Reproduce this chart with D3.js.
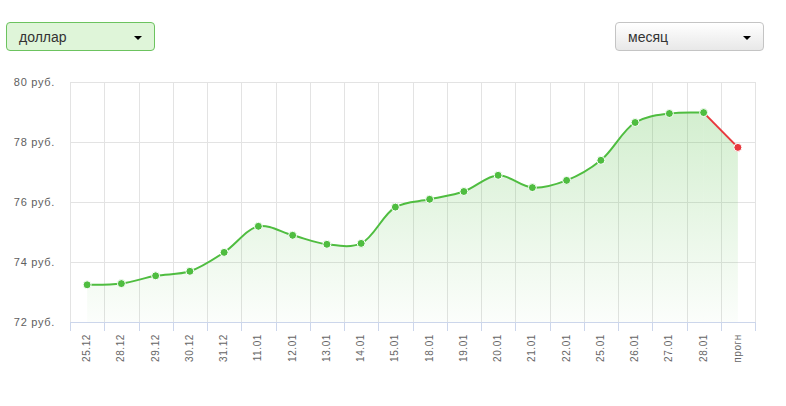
<!DOCTYPE html>
<html>
<head>
<meta charset="utf-8">
<title>Курс доллара</title>
<style>
body {
    margin: 0;
    background: #fff;
    font-family: "Liberation Sans", Arial, sans-serif;
}
.dd {
    position: absolute;
    top: 22px;
    height: 27px;
    width: 147px;
    border-radius: 4px;
    font-size: 14px;
    color: #333;
    line-height: 27px;
    box-sizing: content-box;
}
.dd span.lbl {
    position: absolute;
    left: 12px;
    top: 1px;
}
.dd span.caret {
    position: absolute;
    right: 12px;
    top: 13px;
    width: 0;
    height: 0;
    border-left: 4px solid transparent;
    border-right: 4px solid transparent;
    border-top: 4px solid #000;
}
#cur {
    left: 6px;
    background: #dff5d9;
    border: 1px solid #6cc35f;
}
#period {
    left: 615px;
    background: linear-gradient(#ffffff, #e8e8e8);
    border: 1px solid #c4c4c4;
}
#chart {
    position: absolute;
    left: 0;
    top: 0;
}
text {
    font-family: "Liberation Sans", Arial, sans-serif;
}
.grid line {
    stroke: #e3e3e3;
    shape-rendering: crispEdges;
}
.xaxis line {
    stroke: #ccd6eb;
    shape-rendering: crispEdges;
}
</style>
</head>
<body>
<script src="https://cdn.jsdelivr.net/npm/d3@7"></script>
<div id="cur" class="dd"><span class="lbl">доллар</span><span class="caret"></span></div>
<div id="period" class="dd"><span class="lbl">месяц</span><span class="caret"></span></div>
<div id="chart"></div>
<script>
var dates = ["25.12", "28.12", "29.12", "30.12", "31.12", "11.01", "12.01", "13.01", "14.01", "15.01",
             "18.01", "19.01", "20.01", "21.01", "22.01", "25.01", "26.01", "27.01", "28.01", "прогн"];
var rates = [73.24, 73.28, 73.54, 73.69, 74.32, 75.19, 74.89, 74.59, 74.62, 75.83,
             76.09, 76.35, 76.89, 76.48, 76.72, 77.39, 78.65, 78.95, 78.98, 77.82];
var yticks = [72, 74, 76, 78, 80];

(function() {
    var dimensions = { width: 786, height: 406 };
    var margins = { top: 82, right: 31, bottom: 84, left: 70 };
    var green = "#4fbd40", red = "#e8383d";

    var svg = d3.select("#chart")
        .append("svg")
        .attr("width", dimensions.width)
        .attr("height", dimensions.height);

    var xscale = d3.scaleBand()
        .domain(dates)
        .range([margins.left, dimensions.width - margins.right]);
    var yscale = d3.scaleLinear()
        .domain([72, 80])
        .range([dimensions.height - margins.bottom, margins.top]);
    var bottom = yscale(72);

    function cx(d) { return xscale(d) + xscale.bandwidth() / 2; }

    var defs = svg.append("defs");
    var grad = defs.append("linearGradient")
        .attr("id", "fill")
        .attr("gradientUnits", "userSpaceOnUse")
        .attr("x1", 0).attr("x2", 0)
        .attr("y1", yscale(79)).attr("y2", bottom);
    grad.append("stop").attr("offset", "0%").attr("stop-color", "#4fbd40").attr("stop-opacity", 0.25);
    grad.append("stop").attr("offset", "100%").attr("stop-color", "#4fbd40").attr("stop-opacity", 0.02);

    // grid
    var grid = svg.append("g").attr("class", "grid");
    var xlines = dates.map(function(d) { return xscale(d); }).concat([xscale.range()[1]]);
    grid.selectAll("line.v")
        .data(xlines)
        .enter().append("line")
        .attr("class", "v")
        .attr("x1", function(d) { return Math.round(d) + 0.5; })
        .attr("x2", function(d) { return Math.round(d) + 0.5; })
        .attr("y1", margins.top)
        .attr("y2", bottom);
    grid.selectAll("line.h")
        .data(yticks.slice(1))
        .enter().append("line")
        .attr("class", "h")
        .attr("x1", margins.left)
        .attr("x2", xscale.range()[1])
        .attr("y1", function(d) { return yscale(d) + 0.5; })
        .attr("y2", function(d) { return yscale(d) + 0.5; });

    // y labels
    svg.append("g")
        .selectAll("text")
        .data(yticks)
        .enter().append("text")
        .attr("x", 55)
        .attr("y", function(d) { return yscale(d) + 4; })
        .attr("text-anchor", "end")
        .attr("font-size", "11px")
        .attr("letter-spacing", "0.7px")
        .attr("fill", "#606060")
        .text(function(d) { return d + " руб."; });

    // x axis
    var gx = svg.append("g").attr("class", "xaxis");
    gx.append("line")
        .attr("x1", margins.left)
        .attr("x2", xscale.range()[1])
        .attr("y1", bottom + 0.5)
        .attr("y2", bottom + 0.5);
    gx.selectAll("line.tick")
        .data(xlines)
        .enter().append("line")
        .attr("class", "tick")
        .attr("x1", function(d) { return Math.round(d) + 0.5; })
        .attr("x2", function(d) { return Math.round(d) + 0.5; })
        .attr("y1", bottom)
        .attr("y2", bottom + 9);
    gx.selectAll("text")
        .data(dates)
        .enter().append("text")
        .attr("transform", function(d) { return "translate(" + (cx(d) + 3) + "," + (bottom + 12) + ") rotate(-90)"; })
        .attr("text-anchor", "end")
        .attr("font-size", "10px")
        .attr("letter-spacing", "0.6px")
        .attr("fill", "#666")
        .text(function(d) { return d; });

    var pts = dates.map(function(d, i) { return { x: cx(d), y: yscale(rates[i]) }; });
    var main = pts.slice(0, pts.length - 1);
    var fcst = pts.slice(pts.length - 2);

    var area = d3.area()
        .x(function(d) { return d.x; })
        .y0(bottom)
        .y1(function(d) { return d.y; });
    svg.append("path")
        .attr("d", area.curve(d3.curveCatmullRom.alpha(0.5))(main))
        .attr("fill", "url(#fill)");
    svg.append("path")
        .attr("d", area.curve(d3.curveLinear)(fcst))
        .attr("fill", "url(#fill)");

    svg.append("path")
        .attr("d", d3.line().x(function(d) { return d.x; }).y(function(d) { return d.y; })
            .curve(d3.curveLinear)(fcst))
        .attr("fill", "none")
        .attr("stroke", red)
        .attr("stroke-width", 2);
    svg.append("path")
        .attr("d", d3.line().x(function(d) { return d.x; }).y(function(d) { return d.y; })
            .curve(d3.curveCatmullRom.alpha(0.5))(main))
        .attr("fill", "none")
        .attr("stroke", green)
        .attr("stroke-width", 2);

    svg.append("g")
        .selectAll("circle")
        .data(pts)
        .enter().append("circle")
        .attr("cx", function(d) { return d.x; })
        .attr("cy", function(d) { return d.y; })
        .attr("r", 4)
        .attr("fill", function(d, i) { return i == pts.length - 1 ? red : green; })
        .attr("stroke", "#fff")
        .attr("stroke-width", 1);
})();
</script>
</body>
</html>
